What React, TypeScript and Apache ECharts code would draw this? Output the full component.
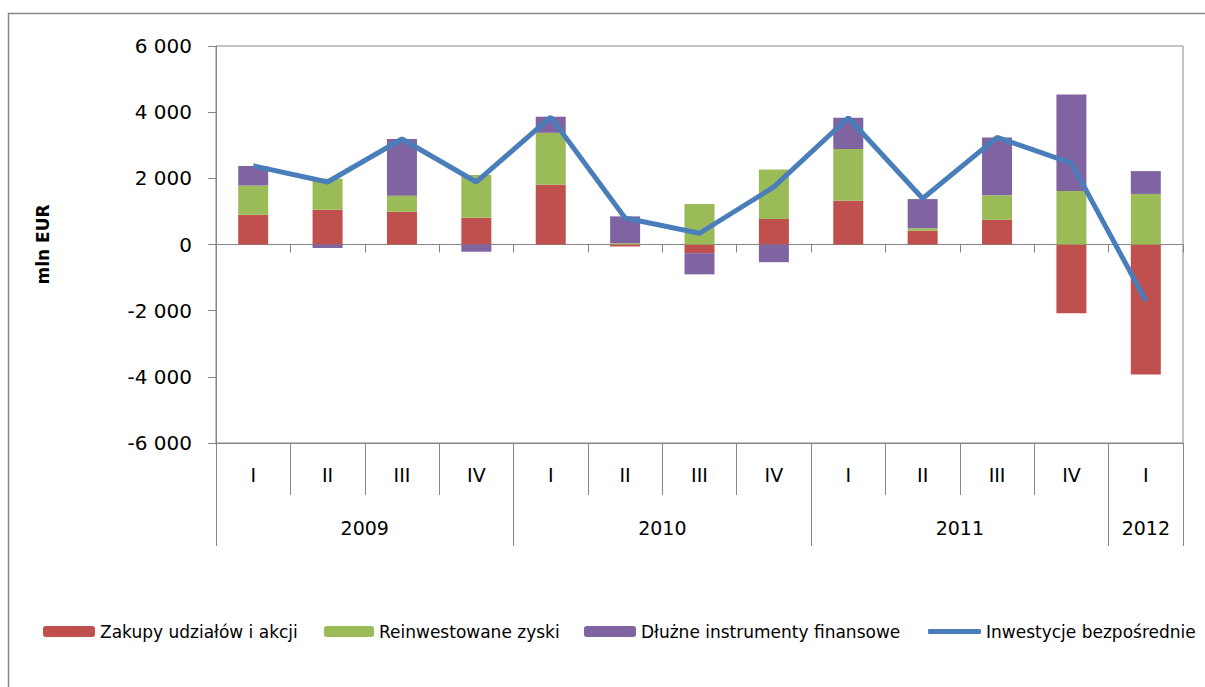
import React, { useEffect, useRef } from "react";
import * as echarts from "echarts";

const quarters = ["I", "II", "III", "IV", "I", "II", "III", "IV", "I", "II", "III", "IV", "I"];
const years = ["2009", "2010", "2011", "2012"];
const yearSpans = [4, 4, 4, 1];

const zakupy = [900, 1050, 990, 805, 1807, -60, -262, 770, 1324, 413, 747, -2075, -3927];
const reinwestowane = [885, 940, 486, 1295, 1570, 40, 1227, 1500, 1560, 80, 740, 1619, 1528];
const dluzne = [590, -106, 1710, -218, 486, 810, -640, -535, 950, 880, 1750, 2915, 690];
const inwestycje = [2380, 1890, 3190, 1890, 3850, 800, 340, 1740, 3830, 1390, 3240, 2460, -1700];

const seriesNames = [
  "Zakupy udziałów i akcji",
  "Reinwestowane zyski",
  "Dłużne instrumenty finansowe",
  "Inwestycje bezpośrednie",
];

const FONT = "DejaVu Sans";
const GRAY = "#868686";

function fmt(v: number): string {
  const s = Math.abs(v).toString().replace(/\B(?=(\d{3})+(?!\d))/g, " ");
  return (v < 0 ? "-" : "") + s;
}

export default function App() {
  const ref = useRef<HTMLDivElement>(null);
  useEffect(() => {
    if (!ref.current) return;
    const chart = echarts.init(ref.current, undefined, { renderer: "svg" });

    const yearBounds: number[] = [0];
    const yearCenters: number[] = [];
    yearSpans.forEach((s) => {
      const start = yearBounds[yearBounds.length - 1];
      yearCenters.push(start + s / 2);
      yearBounds.push(start + s);
    });

    const legendCommon = {
      top: 623,
      padding: 0,
      itemWidth: 52,
      itemHeight: 11,
      textStyle: { fontFamily: FONT, fontSize: 17, color: "#000" },
    };

    chart.setOption({
      animation: false,
      backgroundColor: "#fff",
      graphic: [
        {
          type: "rect",
          shape: { x: 8.5, y: 13.5, width: 1400, height: 900 },
          style: { fill: "none", stroke: GRAY, lineWidth: 1.5 },
          silent: true,
        },
      ],
      grid: {
        left: 216,
        right: 22,
        top: 46,
        bottom: 244,
        show: true,
        borderColor: GRAY,
        borderWidth: 1,
        backgroundColor: "transparent",
      },
      legend: [
        { ...legendCommon, left: 43, data: [seriesNames[0]], itemWidth: 52 },
        { ...legendCommon, left: 324, data: [seriesNames[1]], itemWidth: 50 },
        { ...legendCommon, left: 584, data: [seriesNames[2]], itemWidth: 52 },
        {
          ...legendCommon,
          left: 928,
          data: [{ name: seriesNames[3], icon: "roundRect" }],
          itemWidth: 53,
          itemHeight: 5,
        },
      ],
      xAxis: [
        {
          type: "category",
          data: quarters,
          position: "bottom",
          axisLine: { onZero: true, lineStyle: { color: GRAY, width: 1 } },
          axisTick: { show: true, interval: 0, length: 8, lineStyle: { color: GRAY } },
          axisLabel: { show: false },
          splitLine: { show: false },
        },
        {
          type: "category",
          data: quarters,
          position: "bottom",
          axisLine: { show: true, onZero: false, lineStyle: { color: GRAY, width: 1 } },
          axisTick: { show: true, interval: 0, length: 52, lineStyle: { color: GRAY } },
          axisLabel: {
            interval: 0,
            margin: 22,
            fontFamily: FONT,
            fontSize: 19,
            color: "#000",
          },
          splitLine: { show: false },
        },
        {
          type: "value",
          min: 0,
          max: 13,
          position: "bottom",
          axisLine: { show: false, onZero: false },
          axisTick: {
            show: true,
            length: 103,
            customValues: yearBounds,
            lineStyle: { color: GRAY },
          },
          axisLabel: {
            show: true,
            margin: 75,
            customValues: yearCenters,
            fontFamily: FONT,
            fontSize: 19,
            color: "#000",
            formatter: (v: number) => {
              const i = yearCenters.findIndex((c) => Math.abs(c - v) < 1e-6);
              return i >= 0 ? years[i] : "";
            },
          },
          splitLine: { show: false },
        },
      ],
      yAxis: {
        type: "value",
        min: -6000,
        max: 6000,
        interval: 2000,
        name: "mln EUR",
        nameLocation: "middle",
        nameRotate: 90,
        nameGap: 165,
        nameTextStyle: { fontFamily: FONT, fontSize: 17, fontWeight: "bold", color: "#000" },
        axisLine: { show: true, lineStyle: { color: GRAY, width: 1 } },
        axisTick: { show: true, length: 8, lineStyle: { color: GRAY } },
        axisLabel: {
          margin: 24,
          fontFamily: FONT,
          fontSize: 20,
          color: "#000",
          formatter: (v: number) => fmt(v),
        },
        splitLine: { show: false },
      },
      series: [
        {
          name: seriesNames[0],
          type: "bar",
          stack: "total",
          barWidth: 30,
          data: zakupy,
          itemStyle: { color: "#C0504D" },
          xAxisIndex: 0,
        },
        {
          name: seriesNames[1],
          type: "bar",
          stack: "total",
          barWidth: 30,
          data: reinwestowane,
          itemStyle: { color: "#9BBB59" },
          xAxisIndex: 0,
        },
        {
          name: seriesNames[2],
          type: "bar",
          stack: "total",
          barWidth: 30,
          data: dluzne,
          itemStyle: { color: "#8064A2" },
          xAxisIndex: 0,
        },
        {
          name: seriesNames[3],
          type: "line",
          data: inwestycje,
          showSymbol: false,
          symbol: "none",
          lineStyle: { color: "#4A7EBB", width: 5 },
          itemStyle: { color: "#4A7EBB" },
          xAxisIndex: 0,
          z: 5,
        },
      ],
    });
    return () => chart.dispose();
  }, []);
  return (
    <div
      ref={ref}
      style={{ position: "fixed", left: 0, top: 0, width: 1205, height: 687 }}
    />
  );
}
